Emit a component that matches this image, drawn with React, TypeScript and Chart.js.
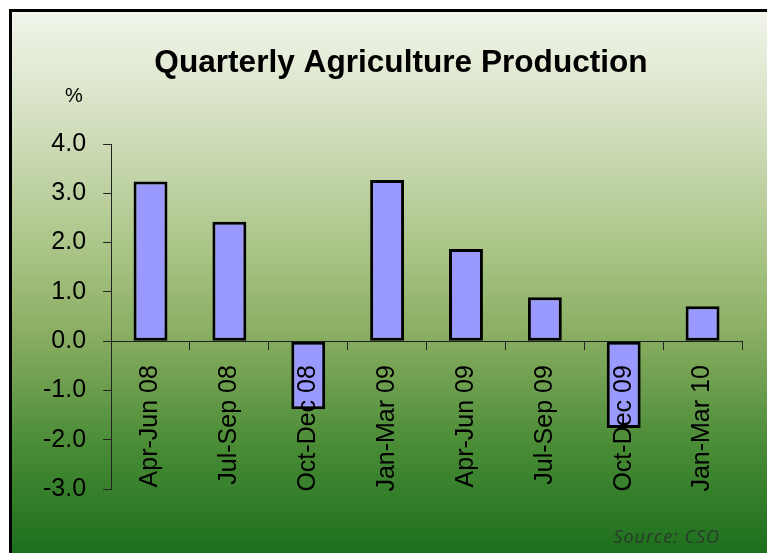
import React, { useEffect, useRef } from "react";
import { Chart, registerables } from "chart.js";

Chart.register(...registerables);

const categories = [
  "Apr-Jun 08",
  "Jul-Sep 08",
  "Oct-Dec 08",
  "Jan-Mar 09",
  "Apr-Jun 09",
  "Jul-Sep 09",
  "Oct-Dec 09",
  "Jan-Mar 10",
];
const production = [3.24, 2.42, -1.38, 3.27, 1.87, 0.89, -1.76, 0.71];
const yTicks = [-3, -2, -1, 0, 1, 2, 3, 4];
const titleText = "Quarterly Agriculture Production";
const unitText = "%";
const sourceText = "Source: CSO";

const FONT = "'Liberation Sans', Arial, sans-serif";

const decorPlugin = {
  id: "decor",
  beforeDraw(chart: any) {
    const ctx = chart.ctx;
    const w = chart.width;
    const h = chart.height;
    ctx.save();
    ctx.fillStyle = "#ffffff";
    ctx.fillRect(0, 0, w, h);
    const g = ctx.createLinearGradient(0, 12, 0, h);
    g.addColorStop(0, "#f1f5ea");
    g.addColorStop(0.2, "#d4e0c0");
    g.addColorStop(0.45, "#a8c384");
    g.addColorStop(0.6, "#88ad60");
    g.addColorStop(0.8, "#4a8c36");
    g.addColorStop(1, "#1c6f1c");
    ctx.fillStyle = g;
    ctx.fillRect(11, 11, w - 11, h - 11);
    ctx.fillStyle = "#000000";
    ctx.fillRect(9, 9, w - 9, 3);
    ctx.fillRect(9, 9, 3, h - 9);
    ctx.restore();
  },
  afterDraw(chart: any) {
    const ctx = chart.ctx;
    ctx.save();
    ctx.fillStyle = "#000000";
    ctx.font = `bold 31.6px ${FONT}`;
    ctx.textAlign = "center";
    ctx.textBaseline = "alphabetic";
    ctx.fillText(titleText, 401, 72);
    ctx.font = `20px ${FONT}`;
    ctx.fillText(unitText, 74, 102);
    ctx.font = `italic 18px 'Open Sans', ${FONT}`;
    try {
      (ctx as any).letterSpacing = "1px";
    } catch (e) {}
    ctx.fillStyle = "#2a3a2a";
    ctx.textAlign = "right";
    ctx.textBaseline = "middle";
    ctx.fillText(sourceText, 720, 538);
    ctx.restore();
  },
};

export default function App() {
  const ref = useRef<HTMLCanvasElement | null>(null);

  useEffect(() => {
    if (!ref.current) return;
    const chart = new Chart(ref.current, {
      type: "bar",
      data: {
        labels: categories,
        datasets: [
          {
            data: production,
            backgroundColor: "#9999ff",
            borderColor: "#000000",
            borderWidth: 3,
            borderSkipped: false,
            barPercentage: 0.43,
            categoryPercentage: 1,
          },
        ],
      },
      options: {
        responsive: false,
        animation: false,
        events: [],
        layout: { padding: { left: 26, top: 144, right: 25, bottom: 64 } },
        plugins: {
          legend: { display: false },
          title: { display: false },
          tooltip: { enabled: false },
        },
        scales: {
          x: {
            type: "category",
            position: { y: 0 } as any,
            offset: true,
            grid: {
              drawOnChartArea: false,
              tickLength: 8,
              color: "#222222",
              offset: true,
            },
            border: { color: "#222222", width: 1 },
            ticks: {
              autoSkip: false,
              minRotation: 90,
              maxRotation: 90,
              padding: 16,
              color: "#000000",
              font: { family: FONT, size: 25 },
              z: 2,
            },
          },
          y: {
            min: -3,
            max: 4,
            afterBuildTicks: (scale: any) => {
              scale.ticks = yTicks.map((v) => ({ value: v }));
            },
            grid: {
              drawOnChartArea: false,
              tickLength: 8,
              color: "#222222",
            },
            border: { color: "#222222", width: 1 },
            ticks: {
              padding: 17,
              color: "#000000",
              font: { family: FONT, size: 25 },
              callback: (v: any) => Number(v).toFixed(1),
            },
          },
        },
      },
      plugins: [decorPlugin],
    });
    return () => chart.destroy();
  }, []);

  return (
    <div style={{ position: "fixed", left: 0, top: 0, width: 767, height: 553 }}>
      <canvas
        ref={ref}
        width={767}
        height={553}
        style={{ display: "block", width: 767, height: 553 }}
      />
    </div>
  );
}
